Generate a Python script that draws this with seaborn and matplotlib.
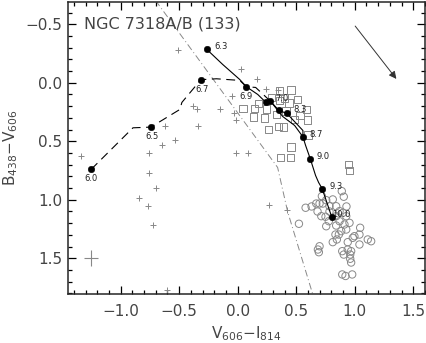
import numpy as np
import pandas as pd
import matplotlib
matplotlib.use("Agg")
import matplotlib.pyplot as plt
import seaborn as sns
from matplotlib.ticker import MultipleLocator, FuncFormatter

# --- data ---
plus_x = [-0.509, 0.032, 0.165, 0.245, 0.341, -0.049, -0.153, -0.386, -0.352, -0.032,
          -0.017, -0.622, -0.338, -0.537, -0.650, -0.756, -1.341, -0.011, 0.088, -0.756,
          -0.702, -0.841, -0.770, -0.727, -0.608, 0.267, 0.424]
plus_y = [-0.276, -0.114, -0.028, 0.057, 0.066, 0.115, 0.220, 0.200, 0.228, 0.256,
          0.314, 0.371, 0.371, 0.491, 0.536, 0.598, 0.627, 0.604, 0.604, 0.769,
          0.901, 0.986, 1.055, 1.214, 1.767, 1.046, 1.089]

sq_x = [0.358, 0.456, 0.045, 0.145, 0.245, 0.179, 0.136, 0.230, 0.330, 0.358,
        0.401, 0.437, 0.486, 0.533, 0.588, 0.597, 0.264, 0.350, 0.392, 0.599,
        0.456, 0.364, 0.452, 0.946, 0.955, 0.415, 0.512, 0.290]
sq_y = [0.070, 0.063, 0.220, 0.220, 0.222, 0.177, 0.292, 0.299, 0.271, 0.151,
        0.128, 0.171, 0.314, 0.279, 0.228, 0.318, 0.399, 0.374, 0.378, 0.446,
        0.550, 0.638, 0.638, 0.698, 0.750, 0.243, 0.143, 0.126]

circ_x = [0.889, 0.906, 0.719, 0.671, 0.699, 0.727, 0.756, 0.580, 0.784, 0.841,
          0.870, 0.898, 0.714, 0.750, 0.841, 0.927, 0.778, 0.870, 0.756, 0.841,
          0.912, 0.955, 0.523, 0.884, 0.835, 0.864, 0.927, 1.046, 1.040, 0.983,
          0.847, 0.812, 0.940, 1.040, 1.111, 1.140, 0.699, 0.685, 0.693, 0.893,
          0.940, 0.969, 0.906, 0.961, 0.961, 0.969, 0.893, 0.921, 0.978, 0.812,
          0.997, 0.631, 0.682, 0.784, 0.929]
circ_y = [0.926, 0.974, 0.969, 1.032, 1.032, 1.032, 1.003, 1.068, 1.055, 1.055,
          1.097, 1.111, 1.140, 1.145, 1.140, 1.140, 1.183, 1.183, 1.226, 1.220,
          1.211, 1.197, 1.205, 1.268, 1.297, 1.297, 1.254, 1.239, 1.297, 1.325,
          1.339, 1.362, 1.362, 1.382, 1.339, 1.354, 1.397, 1.425, 1.448, 1.439,
          1.425, 1.439, 1.468, 1.468, 1.504, 1.536, 1.638, 1.651, 1.638, 0.997,
          1.311, 1.057, 1.100, 1.100, 1.057]

# model tracks
dash_x = [-1.253, -0.895, -0.742, -0.494, -0.477, -0.315, -0.182, 0.017, 0.074, 0.153, 0.279]
dash_y = [0.741, 0.385, 0.379, 0.228, 0.168, -0.026, -0.034, -0.020, 0.034, 0.040, 0.157]
solid_x = [-0.264, -0.128, 0.017, 0.074, 0.171, 0.239, 0.279, 0.352, 0.420, 0.557,
           0.557, 0.580, 0.620, 0.665, 0.691, 0.722, 0.804]
solid_y = [-0.285, -0.156, -0.028, 0.034, 0.100, 0.166, 0.157, 0.237, 0.262, 0.408,
           0.462, 0.536, 0.650, 0.792, 0.852, 0.906, 1.149]
branch_x = [0.279, 0.384, 0.486, 0.557]
branch_y = [0.157, 0.288, 0.365, 0.462]

dot_x = [-1.253, -0.742, -0.315, -0.264, 0.074, 0.239, 0.279, 0.352, 0.420, 0.557, 0.620, 0.722, 0.804]
dot_y = [0.741, 0.379, -0.026, -0.285, 0.034, 0.166, 0.157, 0.237, 0.262, 0.462, 0.650, 0.906, 1.149]

age_labels = ["6.0", "6.3", "6.5", "6.7", "6.9", "7.0", "8.3", "8.7", "9.0", "9.3", "10.0"]
age_x = [-1.253, -0.145, -0.736, -0.307, 0.068, 0.375, 0.529, 0.671, 0.733, 0.841, 0.887]
age_y = [0.818, -0.310, 0.456, 0.057, 0.117, 0.138, 0.228, 0.442, 0.632, 0.886, 1.126]

# dash-dot boundary line
bound_x = [-0.702, 0.341, 0.426, 0.639]
bound_y = [-0.703, 0.724, 1.100, 1.801]

# reddening vector and typical error
vec_start = (0.989, -0.503)
vec_end = (1.370, -0.014)
err_x, err_y, err_dx, err_dy = -1.25, 1.50, 0.06, 0.07

sns.set_style("ticks", {"xtick.direction": "in", "ytick.direction": "in"})
plt.rcParams["font.family"] = ["DejaVu Sans"]

fig = plt.figure(figsize=(4.26, 3.43), dpi=100)
ax = fig.add_axes([68 / 426, 1 - 294 / 343, 357 / 426, 292 / 343])

grey = "#888888"
sns.scatterplot(x=plus_x, y=plus_y, marker="+", s=22, color=grey, linewidth=0.7, ax=ax)
sns.scatterplot(x=sq_x, y=sq_y, marker="s", s=30, facecolor="none", edgecolor=grey, linewidth=0.7, ax=ax)
sns.scatterplot(x=circ_x, y=circ_y, marker="o", s=28, facecolor="none", edgecolor=grey, linewidth=0.7, ax=ax)

ax.plot(bound_x, bound_y, color=grey, lw=0.7, linestyle=(0, (7, 3, 1, 3)))

sns.lineplot(x=dash_x, y=dash_y, sort=False, estimator=None, color="black", lw=0.8,
             linestyle=(0, (8, 5)), ax=ax)
sns.lineplot(x=solid_x, y=solid_y, sort=False, estimator=None, color="black", lw=0.8, ax=ax)
sns.lineplot(x=branch_x, y=branch_y, sort=False, estimator=None, color="black", lw=0.8, ax=ax)
sns.scatterplot(x=dot_x, y=dot_y, s=22, color="black", edgecolor="black", zorder=5, ax=ax)

for lab, tx, ty in zip(age_labels, age_x, age_y):
    ax.text(tx, ty, lab, fontsize=6, ha="center", va="center", color="#222222")

ax.annotate("", xy=vec_end, xytext=vec_start,
            arrowprops=dict(arrowstyle="-|>", color="#333333", lw=0.7, mutation_scale=11))
ax.errorbar([err_x], [err_y], xerr=err_dx, yerr=err_dy, fmt="none", ecolor=grey, elinewidth=0.8)

ax.text(-1.31, -0.5, "NGC 7318A/B (133)", fontsize=11.5, color="#444444", va="center", ha="left")

ax.set_xlim(-1.45, 1.6)
ax.set_ylim(1.805, -0.69)
ax.xaxis.set_major_locator(MultipleLocator(0.5))
ax.xaxis.set_minor_locator(MultipleLocator(0.1))
ax.yaxis.set_major_locator(MultipleLocator(0.5))
ax.yaxis.set_minor_locator(MultipleLocator(0.1))
fmt = FuncFormatter(lambda v, p: f"{v:.1f}".replace("-", "\u2212"))
ax.xaxis.set_major_formatter(fmt)
ax.yaxis.set_major_formatter(fmt)
ax.tick_params(which="both", direction="in", top=True, right=True, color="black", width=0.9)
ax.tick_params(which="major", length=6, labelsize=11, labelcolor="#444444", pad=7)
ax.tick_params(which="minor", length=3)
ax.tick_params(axis="y", which="major", pad=4)
for sp in ax.spines.values():
    sp.set_linewidth(1.1)

ax.set_xlabel("V$_{606}$\u2212I$_{814}$", fontsize=11, color="#444444", labelpad=4)
ax.set_ylabel("B$_{438}$\u2212V$_{606}$", fontsize=11, color="#444444", labelpad=4)

fig.savefig("out.png", dpi=100)
